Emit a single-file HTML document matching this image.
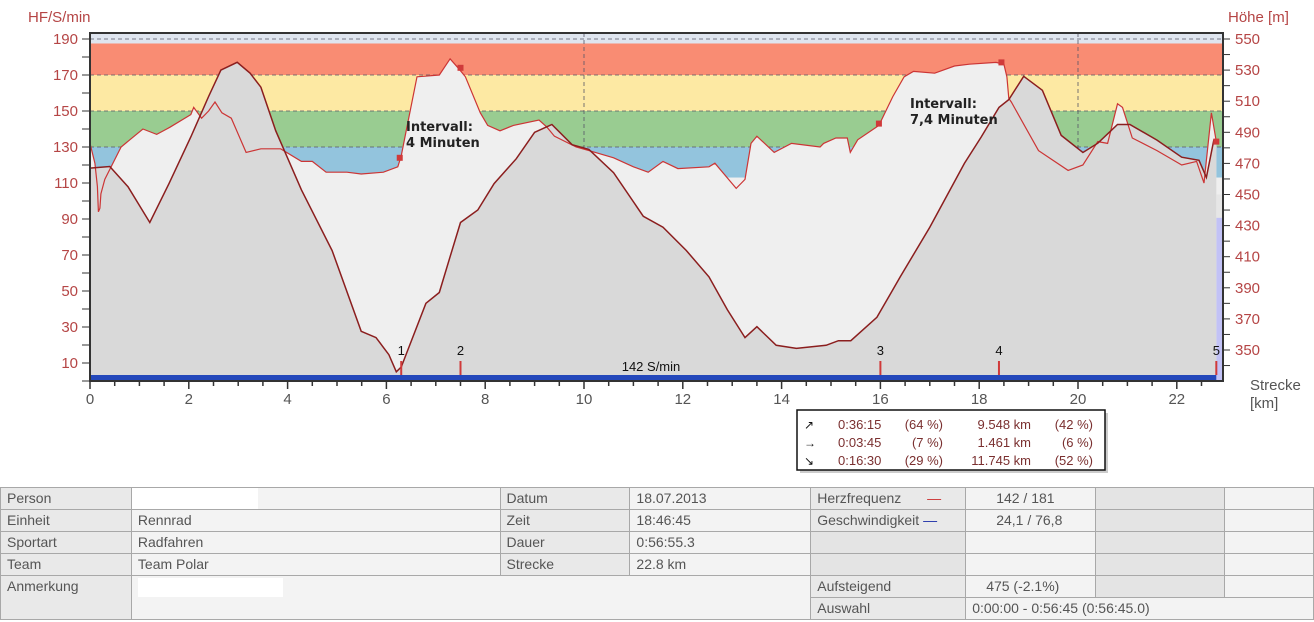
<!DOCTYPE html>
<html><head><meta charset="utf-8">
<style>
body{margin:0;background:#fff;width:1314px;height:622px;overflow:hidden;font-family:"Liberation Sans",sans-serif}
svg{position:absolute;left:0;top:0}
table{position:absolute;left:0;top:487px;border-collapse:collapse;font-size:14px;color:#555;table-layout:fixed}
td{border:1px solid #a8a8a8;height:21px;padding:0 0 0 6px;white-space:nowrap;overflow:hidden;vertical-align:top;line-height:21px}
.l{background:#e9e9e9}.v{background:#f3f3f3}.g{background:#e4e4e4}
</style></head><body>
<svg id="c" width="1314" height="480"></svg>
<table>
<colgroup><col style="width:131px"><col style="width:369px"><col style="width:130px"><col style="width:181px"><col style="width:155px"><col style="width:130px"><col style="width:129px"><col style="width:89px"></colgroup>
<tr><td class="l">Person</td><td class="v"><div style="background:#fff;width:126px;height:21px;margin-left:-6px"></div></td><td class="l">Datum</td><td class="v">18.07.2013</td><td class="l">Herzfrequenz <span style="color:#c33;margin-left:22px">—</span></td><td class="v" style="padding-left:30px">142 / 181</td><td class="g"></td><td class="v"></td></tr>
<tr><td class="l">Einheit</td><td class="v">Rennrad</td><td class="l">Zeit</td><td class="v">18:46:45</td><td class="l">Geschwindigkeit <span style="color:#23a">—</span></td><td class="v" style="padding-left:30px">24,1 / 76,8</td><td class="g"></td><td class="v"></td></tr>
<tr><td class="l">Sportart</td><td class="v">Radfahren</td><td class="l">Dauer</td><td class="v">0:56:55.3</td><td class="g"></td><td class="v"></td><td class="g"></td><td class="v"></td></tr>
<tr><td class="l">Team</td><td class="v">Team Polar</td><td class="l">Strecke</td><td class="v">22.8 km</td><td class="g"></td><td class="v"></td><td class="g"></td><td class="v"></td></tr>
<tr><td class="l" rowspan="2">Anmerkung</td><td class="v" colspan="3" rowspan="2"><div style="background:#fff;width:145px;height:19px;margin-top:2px"></div></td><td class="l">Aufsteigend</td><td class="v" style="padding-left:20px">475 (-2.1%)</td><td class="g"></td><td class="v"></td></tr>
<tr><td class="l">Auswahl</td><td class="v" colspan="3">0:00:00 - 0:56:45 (0:56:45.0)</td></tr>
</table>
<script>
const hrKm=[0,0.1,0.15,0.17,0.2,0.22,0.3,0.63,1.07,1.35,1.62,2.04,2.1,2.26,2.4,2.53,2.67,2.86,3.16,3.46,3.86,4.28,4.5,4.78,5.2,5.49,5.94,6.23,6.3,6.4,6.62,7.07,7.29,7.45,7.6,7.9,8.05,8.3,8.57,9.09,9.25,9.4,9.84,10.1,10.6,11.0,11.3,11.6,11.9,12.53,12.65,13.08,13.26,13.38,13.5,13.85,14.2,14.78,14.85,15.1,15.33,15.39,15.54,15.97,16.25,16.48,16.67,17.1,17.5,17.8,18.34,18.5,18.56,18.6,18.65,19.2,19.8,20.1,20.4,20.6,20.8,20.9,21.1,21.6,22.1,22.4,22.55,22.7,22.8];
const hrVal=[132,121,108,94,96,104,112,130,140,137,141,148,152,146,150,155,149,146,127,129,129,122,122,116,116,115,116,119,125,139,169,170,179,174,169,149,142,139,142,145,141,136,130,128,124,119,116,122,118,119,121,107,112,132,136,127,132,130,132,135,135,127,134,142,158,169,172,171,175,176,177,176,169,157,155,128,117,120,133,132,154,152,135,128,120,122,110,149,133];
const altKm=[0,0.4,0.77,1.21,1.6,2.04,2.4,2.65,2.98,3.24,3.46,3.76,4.28,4.9,5.49,5.79,6.05,6.2,6.3,6.8,7.07,7.29,7.5,7.85,8.18,8.63,9.0,9.35,9.76,10.1,10.6,11.2,11.6,12.07,12.53,12.9,13.26,13.5,13.89,14.3,14.9,15.15,15.4,15.93,16.4,17.0,17.7,18.04,18.4,18.6,18.9,19.28,19.66,20.1,20.4,20.8,21.05,21.6,22.1,22.45,22.6,22.75,22.8];
const altVal=[467,468,455,432,457,487,513,530,535,528,519,491,453,414,362,358,347,336,339,380,387,410,432,440,457,473,490,495,482,479,464,436,429,414,397,376,358,365,353,351,353,356,356,371,397,429,470,487,506,511,526,517,488,477,483,495,495,485,474,472,461,485,485];
const lapKm=[6.3,7.5,16,18.4,22.8];
const lapLabels=["1","2","3","4","5"];
const markKm=[6.27,7.5,15.97,18.45,22.8];
const markHr=[124,174,143,177,133];
const xTicks=[0,2,4,6,8,10,12,14,16,18,20,22];
const hrTicks=[190,170,150,130,110,90,70,50,30,10];
const altTicks=[550,530,510,490,470,450,430,410,390,370,350];
const zoneLo=[170,150,130,113];const zoneHi=[187.5,170,150,130];
const zoneCol=["#f98c73","#fde9a3","#99cc91","#93c4dd"];

const NS="http://www.w3.org/2000/svg",svg=document.getElementById('c');
const X=k=>90+k*49.4, YH=v=>39+(190-v)*1.8, YA=a=>39+(550-a)*1.555;
function el(t,a,txt){const e=document.createElementNS(NS,t);for(const k in a)e.setAttribute(k,a[k]);if(txt!=null)e.textContent=txt;svg.appendChild(e);return e;}
let e;
e=el('rect',{x:90,y:33,width:1133,height:348,fill:'#dfe5ef'});
zoneLo.forEach((lo,i)=>{e=el('rect',{x:90,y:YH(zoneHi[i]),width:1133,height:YH(lo)-YH(zoneHi[i]),fill:zoneCol[i]});});
e=el('rect',{x:90,y:YH(113),width:1133,height:381-YH(113),fill:'#efefef'});
[190,170,150,130].forEach(v=>{e=el('line',{x1:90,x2:1223,y1:YH(v),y2:YH(v),stroke:'#556',"stroke-dasharray":'4,3','stroke-width':0.8});});
[10,20].forEach(k=>{e=el('line',{x1:X(k),x2:X(k),y1:33,y2:381,stroke:'#556',"stroke-dasharray":'4,3','stroke-width':0.8});});
const hrPts=hrKm.map((k,i)=>X(k).toFixed(1)+','+YH(hrVal[i]).toFixed(1)).join(' ');
const altPts=altKm.map((k,i)=>X(k).toFixed(1)+','+YA(altVal[i]).toFixed(1)).join(' ');
e=el('polygon',{points:X(0)+',381 '+hrPts+' '+X(22.8)+',381',fill:'#efefef'});
e=el('rect',{x:X(22.8),y:YA(450),width:1223-X(22.8),height:381-YA(450),fill:'#e6e6e6'});
e=el('rect',{x:X(22.8),y:YA(435),width:1223-X(22.8),height:381-YA(435),fill:'#c2c2f6'});
e=el('polygon',{points:X(0)+',381 '+altPts+' '+X(22.8)+',381',fill:'#d9d9d9'});
e=el('polyline',{points:hrPts,fill:'none',stroke:'#cc3535','stroke-width':1.2});
e=el('polyline',{points:altPts,fill:'none',stroke:'#8b1e1e','stroke-width':1.5});
markKm.forEach((k,i)=>{e=el('rect',{x:X(k)-3,y:YH(markHr[i])-3,width:6,height:6,fill:'#d03a3a'});});
e=el('text',{x:406,y:131,'font-size':13,'font-weight':'bold',fill:'#222','font-family':'DejaVu Sans'},'Intervall:');
e=el('text',{x:406,y:147,'font-size':13,'font-weight':'bold',fill:'#222','font-family':'DejaVu Sans'},'4 Minuten');
e=el('text',{x:910,y:108,'font-size':13,'font-weight':'bold',fill:'#222','font-family':'DejaVu Sans'},'Intervall:');
e=el('text',{x:910,y:124,'font-size':13,'font-weight':'bold',fill:'#222','font-family':'DejaVu Sans'},'7,4 Minuten');
e=el('rect',{x:90,y:375,width:X(22.8)-90,height:7,fill:'#2448bb'});
e=el('text',{x:651,y:371,'font-size':13,fill:'#111','text-anchor':'middle'},'142 S/min');
lapKm.forEach((k,i)=>{e=el('line',{x1:X(k),x2:X(k),y1:361,y2:375,stroke:'#d03a3a','stroke-width':2});
e=el('text',{x:X(k),y:355,'font-size':13,fill:'#111','text-anchor':'middle'},lapLabels[i]);});
e=el('rect',{x:90,y:33,width:1133,height:348,fill:'none',stroke:'#333','stroke-width':2});
for(let k=0;k<=22.8;k+=0.5){el('line',{x1:X(k),x2:X(k),y1:381,y2:k%2==0?389:386,stroke:'#333','stroke-width':1.5});}
xTicks.forEach(k=>{e=el('text',{x:X(k),y:404,'font-size':15,fill:'#555','text-anchor':'middle'},String(k));});
for(let v=190;v>=0;v-=10){el('line',{x1:82,x2:90,y1:YH(v),y2:YH(v),stroke:'#333'});}
hrTicks.forEach(v=>{e=el('text',{x:78,y:YH(v)+5,'font-size':15,fill:'#b54545','text-anchor':'end'},String(v));});
for(let a=550;a>=330;a-=10){if(YA(a)<=381)el('line',{x1:1223,x2:1230,y1:YA(a),y2:YA(a),stroke:'#333'});}
altTicks.forEach(a=>{e=el('text',{x:1235,y:YA(a)+5,'font-size':15,fill:'#b54545'},String(a));});
e=el('text',{x:28,y:22,'font-size':15,fill:'#b54545'},'HF/S/min');
e=el('text',{x:1228,y:22,'font-size':15,fill:'#b54545'},'Höhe [m]');
e=el('text',{x:1250,y:390,'font-size':15,fill:'#555'},'Strecke');
e=el('text',{x:1250,y:408,'font-size':15,fill:'#555'},'[km]');
e=el('rect',{x:800,y:413,width:308,height:60,fill:'#ccc'});
e=el('rect',{x:797,y:410,width:308,height:60,fill:'#fff',stroke:'#111','stroke-width':1.5});
const sym=['↗','→','↘'],t=['0:36:15','0:03:45','0:16:30'],p=['(64 %)','(7 %)','(29 %)'],d=['9.548 km','1.461 km','11.745 km'],q=['(42 %)','(6 %)','(52 %)'];
for(let i=0;i<3;i++){const y=429+i*18;
el('text',{x:804,y:y,'font-size':12,fill:'#111'},sym[i]);
el('text',{x:838,y:y,'font-size':13,fill:'#7a2f2f'},t[i]);
el('text',{x:943,y:y,'font-size':13,fill:'#7a2f2f','text-anchor':'end'},p[i]);
el('text',{x:1031,y:y,'font-size':13,fill:'#7a2f2f','text-anchor':'end'},d[i]);
el('text',{x:1093,y:y,'font-size':13,fill:'#7a2f2f','text-anchor':'end'},q[i]);}
</script>
</body></html>
